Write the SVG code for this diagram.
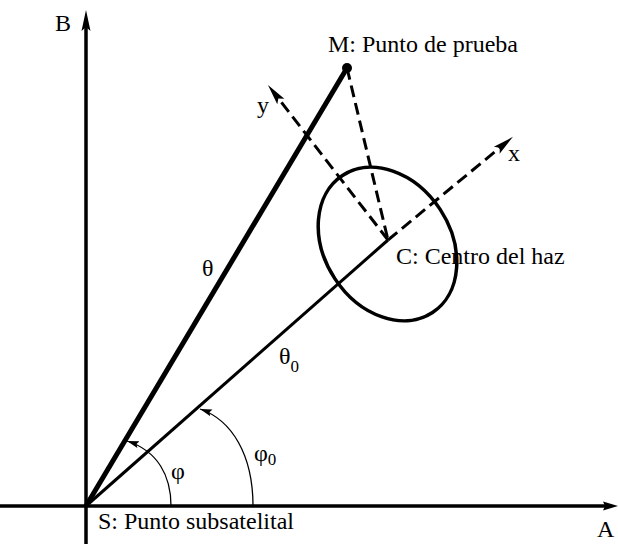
<svg xmlns="http://www.w3.org/2000/svg" width="618" height="544" viewBox="0 0 618 544">
<style>
text{font-family:"Liberation Serif","Times New Roman",serif;fill:#000}
.lbl{font-size:24px}
.gr{font-size:24px}
.sub{font-size:17px}
.ax{stroke:#000;stroke-width:3.5;fill:none}
.dash{stroke:#000;stroke-width:3;stroke-dasharray:12 6;fill:none}
.arc{stroke:#000;stroke-width:1.3;fill:none}
</style>
<defs>
<marker id="big" viewBox="-22 -5 22 10" markerWidth="22" markerHeight="10" refX="-12" refY="0" orient="auto" markerUnits="userSpaceOnUse">
<path d="M0,0 L-21,-4.5 L-17,0 L-21,4.5 Z" fill="#000"/>
</marker>
<marker id="hor" viewBox="-16 -5 16 10" markerWidth="16" markerHeight="10" refX="-8" refY="0" orient="auto" markerUnits="userSpaceOnUse">
<path d="M0,0 L-15,-4.5 L-13,0 L-15,4.5 Z" fill="#000"/>
</marker>
<marker id="small" viewBox="-12 -4 12 8" markerWidth="12" markerHeight="8" refX="0" refY="0" orient="auto" markerUnits="userSpaceOnUse">
<path d="M0,0 L-12,-3.5 L-10,0 L-12,3.5 Z" fill="#000"/>
</marker>
</defs>
<g id="connectors">
<line class="ax" x1="86" y1="544" x2="86" y2="22" marker-end="url(#big)"/>
<line class="ax" x1="0" y1="506" x2="610" y2="506" marker-end="url(#hor)"/>
<line stroke="#000" stroke-width="5" x1="86" y1="506" x2="347" y2="68"/>
<line stroke="#000" stroke-width="3" x1="86" y1="506" x2="388" y2="240"/>
<line class="dash" x1="388" y1="240" x2="503.7" y2="144.5" marker-end="url(#big)"/>
<line class="dash" x1="388" y1="240" x2="275.3" y2="94.5" marker-end="url(#big)"/>
<line class="dash" x1="347" y1="68" x2="388" y2="240"/>
<path class="arc" d="M171,506 C171,476 158,451 127,441" marker-end="url(#small)"/>
<path class="arc" d="M253,506 C253,455 232,420 200,409" marker-end="url(#small)"/>
</g>
<g id="beam">
<ellipse cx="387.5" cy="244" rx="82" ry="63" transform="rotate(56.7 387.5 244)" fill="none" stroke="#000" stroke-width="3.5"/>
</g>
<g id="M">
<circle cx="347" cy="68" r="5" fill="#000"/>
<text class="lbl" x="328" y="52">M: Punto de prueba</text>
</g>
<g id="C">
<text class="lbl" x="396" y="264">C: Centro del haz</text>
</g>
<g id="S">
<text class="lbl" x="98" y="529">S: Punto subsatelital</text>
</g>
<g id="axisB"><text class="lbl" x="55" y="31">B</text></g>
<g id="axisA"><text class="lbl" x="597" y="537">A</text></g>
<g id="axisX"><text class="lbl" x="508" y="161">x</text></g>
<g id="axisY"><text class="lbl" x="257" y="113">y</text></g>
<g id="labels">
<text class="gr" x="202" y="276">θ</text>
<text class="gr" x="279" y="364">θ<tspan class="sub" dy="8">0</tspan></text>
<text class="gr" x="171" y="479">φ</text>
<text class="gr" x="254" y="461">φ<tspan class="sub" dy="4">0</tspan></text>
</g>
</svg>
